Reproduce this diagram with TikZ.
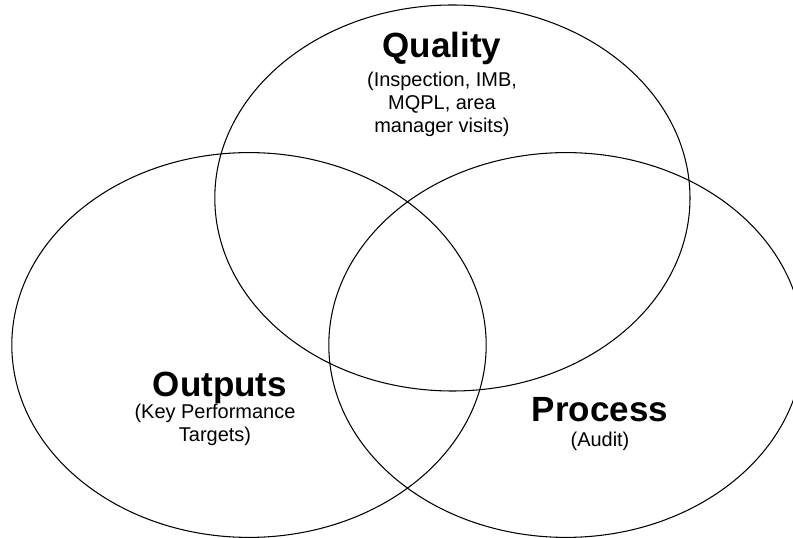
\documentclass[tikz,border=0pt]{standalone}
\usepackage{fontspec}
\setmainfont{Liberation Sans}
\usepackage{tikz}
\usetikzlibrary{positioning}

\begin{document}
\begin{tikzpicture}[
    set/.style={draw, line width=0.75pt},
    heading/.style={font=\fontsize{24.9}{30}\selectfont\bfseries, inner sep=0pt, anchor=base},
    detail/.style={font=\fontsize{14.2}{16.4}\selectfont, align=center, inner sep=0pt, anchor=base}
]
                    \useasboundingbox (0, 0) rectangle (19.825, 13.45);

                    \draw[set] (11.31, 8.5) ellipse (5.94 and 4.825);
                    \draw[set] (6.225, 4.825) ellipse (5.93 and 4.81);
                    \draw[set] (14.15, 4.825) ellipse (5.93 and 4.81);

                    \node[heading] (quality) at (11.05, 12.0) {Quality};
                    \node[detail] (qualitynote) at (11.05, 10.125) {(Inspection, IMB,\\MQPL, area\\manager visits)};
                    \node[heading] (outputs) at (5.5, 3.525) {Outputs};
                    \node[detail] (outputsnote) at (5.375, 2.4) {(Key Performance\\Targets)};
                    \node[heading] (process) at (15.0, 2.9) {Process};
                    \node[detail] (processnote) at (15.0, 2.275) {(Audit)};
                \end{tikzpicture}
\end{document}
